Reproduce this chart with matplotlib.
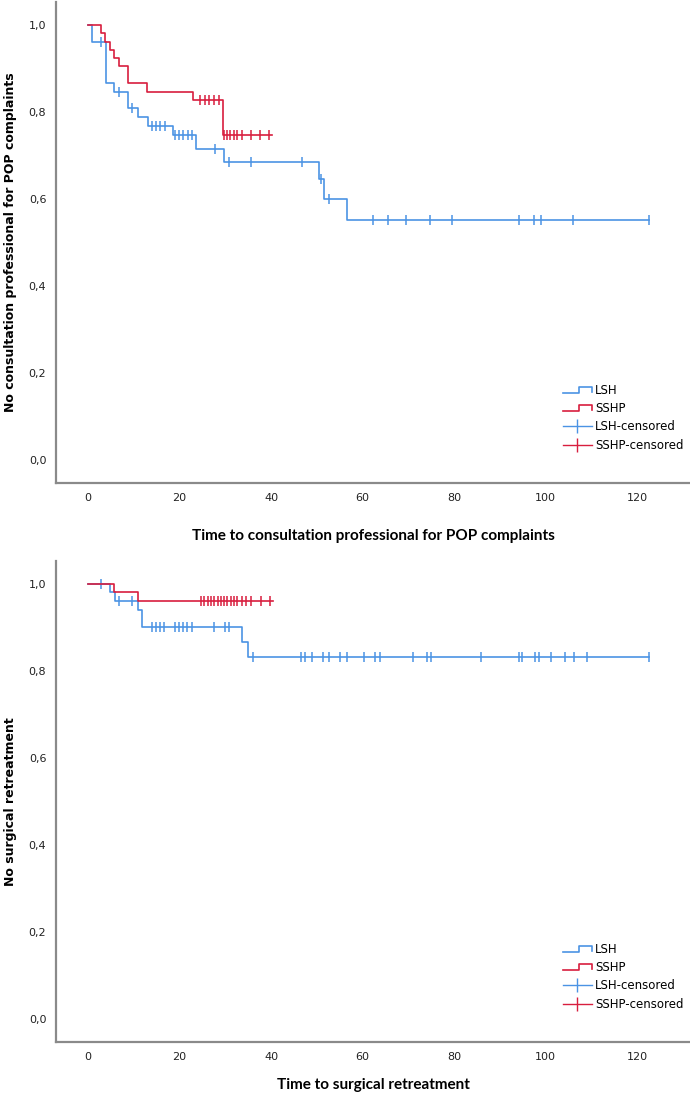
import numpy as np
import matplotlib
matplotlib.use("Agg")
import matplotlib.pyplot as plt
from matplotlib.lines import Line2D
from matplotlib.legend_handler import HandlerBase

# Colours
BLUE = '#4b93e4'
RED = '#d81e3e'
SPINE = '#8a8a8a'

# Axis ticks
xticks = [0, 20, 40, 60, 80, 100, 120]
yticks = [0.0, 0.2, 0.4, 0.6, 0.8, 1.0]
ytick_labels = ['0,0', '0,2', '0,4', '0,6', '0,8', '1,0']

# Top chart: consultation professional for POP complaints
lsh_cons_t = [0, 0.8, 3.9, 5.7, 8.8, 10.8, 13.0, 18.6, 23.6, 29.7, 50.5, 51.5, 56.5, 122.5]
lsh_cons_s = [1.0, 0.962, 0.866, 0.847, 0.809, 0.788, 0.767, 0.746, 0.715, 0.684, 0.645, 0.601, 0.551, 0.551]
lsh_cons_cens = [2.8, 6.8, 9.7, 13.9, 14.8, 15.7, 16.7, 19.0, 19.9, 20.8, 21.8, 22.7, 27.7,
                 30.8, 35.7, 46.7, 50.8, 52.6, 62.2, 65.5, 69.4, 74.7, 79.5, 94.1, 97.4,
                 98.9, 105.9, 122.5]

sshp_cons_t = [0, 2.8, 3.8, 4.8, 5.7, 6.8, 8.8, 12.8, 22.9, 29.5, 40.2]
sshp_cons_s = [1.0, 0.981, 0.962, 0.943, 0.924, 0.905, 0.866, 0.847, 0.828, 0.746, 0.746]
sshp_cons_cens = [24.5, 25.5, 26.5, 27.5, 28.5, 29.8, 30.4, 31.1, 31.8, 32.5, 33.6, 35.7, 37.6, 39.6]

# Bottom chart: surgical retreatment
lsh_surg_t = [0, 4.8, 5.9, 10.8, 11.7, 33.6, 35.0, 122.5]
lsh_surg_s = [1.0, 0.981, 0.962, 0.941, 0.901, 0.866, 0.833, 0.833]
lsh_surg_cens = [2.8, 6.8, 9.7, 13.9, 14.8, 15.7, 16.6, 18.9, 19.8, 20.7, 21.6, 22.6, 27.6,
                 30.0, 30.7, 36.0, 46.5, 47.4, 48.9, 51.3, 52.6, 55.0, 56.6, 60.3, 62.7,
                 63.8, 71.0, 74.0, 74.9, 85.8, 94.1, 94.8, 97.6, 98.5, 101.1, 104.1, 106.1,
                 109.0, 122.5]

sshp_surg_t = [0, 5.7, 10.8, 40.4]
sshp_surg_s = [1.0, 0.981, 0.962, 0.962]
sshp_surg_cens = [24.6, 25.3, 26.1, 26.8, 27.5, 28.3, 29.0, 29.7, 30.4, 31.2, 31.9, 32.6,
                  33.6, 34.5, 35.7, 37.8, 39.7]

legend_labels = ['LSH', 'SSHP', 'LSH-censored', 'SSHP-censored']


class StepHandler(HandlerBase):
    # little step icon like the SPSS legend
    def create_artists(self, legend, orig_handle, xdescent, ydescent,
                       width, height, fontsize, trans):
        lo = -ydescent + height * 0.15
        hi = -ydescent + height * 0.85
        xs = [-xdescent, -xdescent + 0.55 * width, -xdescent + 0.55 * width,
              -xdescent + width, -xdescent + width]
        ys = [lo, lo, hi, hi, lo + 0.05 * height]
        ln = Line2D(xs, ys, color=orig_handle.get_color(), lw=1.2, transform=trans)
        return [ln]


def level_at(t, s, c):
    idx = np.searchsorted(t, c, side='right') - 1
    return np.asarray(s)[idx]


def km_panel(ax, curves, xlabel, ylabel, xlab_y):
    for t, s, cens, color in curves:
        ax.step(t, s, where='post', color=color, lw=1.2)
        ax.plot(cens, level_at(np.array(t), s, np.array(cens)), ls='none',
                marker='|', ms=7.5, mew=1.1, color=color)

    ax.set_xlim(-7, 131.5)
    ax.set_ylim(-0.053, 1.053)
    ax.set_xticks(xticks)
    ax.set_yticks(yticks)
    ax.set_yticklabels(ytick_labels)
    ax.tick_params(length=0, labelsize=8, colors='#222222')
    ax.tick_params(axis='x', pad=7)
    ax.tick_params(axis='y', pad=7)
    for side in ['top', 'right']:
        ax.spines[side].set_visible(False)
    for side in ['left', 'bottom']:
        ax.spines[side].set_color(SPINE)
        ax.spines[side].set_linewidth(1.6)

    ax.set_xlabel(xlabel, fontsize=11, fontweight='bold', family='Lato')
    ax.xaxis.set_label_coords(0.5, xlab_y)
    ax.set_ylabel(ylabel, fontsize=9, fontweight='bold')
    ax.yaxis.set_label_coords(-0.062, 0.5)

    h_lsh = Line2D([], [], color=BLUE)
    h_sshp = Line2D([], [], color=RED)
    h_lsh_c = Line2D([], [], color=BLUE, lw=1.0, marker='|', ms=10, mew=1.0)
    h_sshp_c = Line2D([], [], color=RED, lw=1.0, marker='|', ms=10, mew=1.0)
    ax.legend([h_lsh, h_sshp, h_lsh_c, h_sshp_c], legend_labels,
              handler_map={h_lsh: StepHandler(), h_sshp: StepHandler()},
              loc='lower left', bbox_to_anchor=(0.80, 0.065), frameon=False,
              fontsize=8.5, handlelength=2.4, handletextpad=0.3,
              labelspacing=0.45, borderpad=0, borderaxespad=0, numpoints=1)


fig = plt.figure(figsize=(6.9, 10.95), dpi=100)
ax1 = fig.add_axes([0.0812, 0.5589, 0.9188, 0.4393])
ax2 = fig.add_axes([0.0812, 0.0484, 0.9188, 0.4393])

km_panel(ax1,
         [(lsh_cons_t, lsh_cons_s, lsh_cons_cens, BLUE),
          (sshp_cons_t, sshp_cons_s, sshp_cons_cens, RED)],
         'Time to consultation professional for POP complaints',
         'No consultation professional for POP complaints', -0.096)

km_panel(ax2,
         [(lsh_surg_t, lsh_surg_s, lsh_surg_cens, BLUE),
          (sshp_surg_t, sshp_surg_s, sshp_surg_cens, RED)],
         'Time to surgical retreatment',
         'No surgical retreatment', -0.074)

fig.savefig('out.png', dpi=100)
